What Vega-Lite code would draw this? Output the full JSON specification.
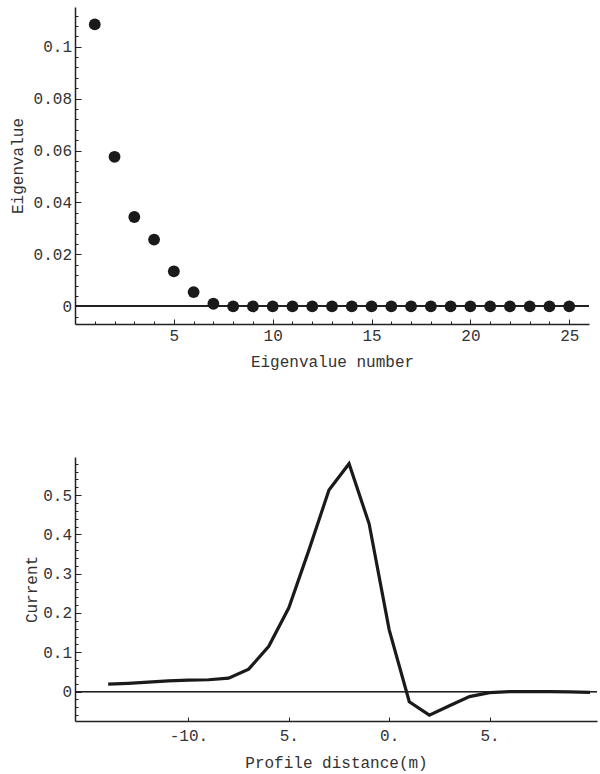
{
  "$schema": "https://vega.github.io/schema/vega-lite/v6.json",
  "padding": {"left": 9, "top": 7, "right": 0, "bottom": 5},
  "background": "white",
  "config": {
    "view": {"stroke": null},
    "font": "Liberation Mono",
    "concat": {"spacing": 86},
    "axis": {
      "grid": false,
      "domainColor": "#222",
      "domainWidth": 1.5,
      "tickColor": "#222",
      "tickWidth": 1,
      "labelFont": "Liberation Mono",
      "labelFontSize": 16,
      "labelColor": "#333",
      "titleFont": "Liberation Mono",
      "titleFontSize": 16,
      "titleFontWeight": "normal",
      "titleColor": "#333",
      "labelOverlap": false,
      "labelFlush": false,
      "labelBound": false
    }
  },
  "datasets": {
    "eig": [
      {"n": 1, "value": 0.1086},
      {"n": 2, "value": 0.0576},
      {"n": 3, "value": 0.0344},
      {"n": 4, "value": 0.0257},
      {"n": 5, "value": 0.0135},
      {"n": 6, "value": 0.0055},
      {"n": 7, "value": 0.001},
      {"n": 8, "value": 0.0},
      {"n": 9, "value": 0.0},
      {"n": 10, "value": 0.0},
      {"n": 11, "value": 0.0},
      {"n": 12, "value": 0.0},
      {"n": 13, "value": 0.0},
      {"n": 14, "value": 0.0},
      {"n": 15, "value": 0.0},
      {"n": 16, "value": 0.0},
      {"n": 17, "value": 0.0},
      {"n": 18, "value": 0.0},
      {"n": 19, "value": 0.0},
      {"n": 20, "value": 0.0},
      {"n": 21, "value": 0.0},
      {"n": 22, "value": 0.0},
      {"n": 23, "value": 0.0},
      {"n": 24, "value": 0.0},
      {"n": 25, "value": 0.0}
    ],
    "profile": [
      {"distance": -14, "current": 0.019},
      {"distance": -13, "current": 0.021},
      {"distance": -12, "current": 0.024},
      {"distance": -11, "current": 0.027},
      {"distance": -10, "current": 0.029},
      {"distance": -9, "current": 0.030},
      {"distance": -8, "current": 0.034},
      {"distance": -7, "current": 0.057},
      {"distance": -6, "current": 0.115},
      {"distance": -5, "current": 0.213},
      {"distance": -4, "current": 0.360},
      {"distance": -3, "current": 0.513},
      {"distance": -2, "current": 0.580},
      {"distance": -1, "current": 0.427},
      {"distance": 0, "current": 0.157},
      {"distance": 1, "current": -0.026},
      {"distance": 2, "current": -0.060},
      {"distance": 3, "current": -0.036},
      {"distance": 4, "current": -0.013},
      {"distance": 5, "current": -0.003},
      {"distance": 6, "current": 0.000},
      {"distance": 7, "current": 0.000},
      {"distance": 8, "current": 0.000},
      {"distance": 9, "current": -0.001},
      {"distance": 10, "current": -0.002}
    ]
  },
  "vconcat": [
    {
      "width": 514,
      "height": 317,
      "data": {"name": "eig"},
      "layer": [
        {
          "mark": {"type": "rule", "color": "#222", "strokeWidth": 1},
          "encoding": {"y": {"datum": 0, "type": "quantitative"}}
        },
        {
          "mark": {"type": "point", "filled": true, "size": 140, "color": "#1a1a1a", "opacity": 1},
          "encoding": {
            "x": {
              "field": "n", "type": "quantitative",
              "scale": {"domain": [0, 26], "nice": false, "zero": false},
              "axis": {
                "title": "Eigenvalue number",
                "values": [1,2,3,4,5,6,7,8,9,10,11,12,13,14,15,16,17,18,19,20,21,22,23,24,25],
                "tickCount": 1000,
                "labelExpr": "datum.value % 5 == 0 ? format(datum.value, 'd') : ''",
                "tickSize": {"condition": {"test": "datum.value % 5 == 0", "value": -5}, "value": -3},
                "labelOverlap": false,
                "labelPadding": 8,
                "titlePadding": 8
              }
            },
            "y": {
              "field": "value", "type": "quantitative",
              "scale": {"domain": [-0.0068, 0.1153], "nice": false, "zero": false},
              "axis": {
                "title": "Eigenvalue",
                "values": [-0.004, 0, 0.004, 0.008, 0.012, 0.016, 0.02, 0.024, 0.028, 0.032, 0.036, 0.04, 0.044, 0.048, 0.052, 0.056, 0.06, 0.064, 0.068, 0.072, 0.076, 0.08, 0.084, 0.088, 0.092, 0.096, 0.1, 0.104, 0.108, 0.112],
                "tickCount": 1000,
                "labelExpr": "abs(datum.value*50 - round(datum.value*50)) < 1e-6 ? format(datum.value, '~g') : ''",
                "tickSize": {"condition": {"test": "abs(datum.value*50 - round(datum.value*50)) < 1e-6", "value": -6}, "value": -3},
                "labelOverlap": false,
                "labelPadding": 9.5,
                "titlePadding": 8
              }
            }
          }
        }
      ]
    },
    {
      "width": 522,
      "height": 264,
      "data": {"name": "profile"},
      "layer": [
        {
          "mark": {"type": "rule", "color": "#222", "strokeWidth": 1},
          "encoding": {"y": {"datum": 0, "type": "quantitative"}}
        },
        {
          "mark": {"type": "line", "color": "#1a1a1a", "strokeWidth": 3.2, "strokeJoin": "miter"},
          "encoding": {
            "x": {
              "field": "distance", "type": "quantitative",
              "scale": {"domain": [-15.65, 10.35], "nice": false, "zero": false},
              "axis": {
                "title": "Profile distance(m)",
                "values": [-10, -5, 0, 5],
                "tickCount": 1000,
                "labelExpr": "datum.value == -10 ? '-10.' : (datum.value == -5 ? '5.' : (datum.value == 0 ? '0.' : '5.'))",
                "tickSize": -4,
                "labelOverlap": false,
                "labelPadding": 10,
                "titlePadding": 11
              }
            },
            "y": {
              "field": "current", "type": "quantitative",
              "scale": {"domain": [-0.075, 0.597], "nice": false, "zero": false},
              "axis": {
                "title": "Current",
                "values": [-0.06, -0.04, -0.02, 0, 0.02, 0.04, 0.06, 0.08, 0.1, 0.12, 0.14, 0.16, 0.18, 0.2, 0.22, 0.24, 0.26, 0.28, 0.3, 0.32, 0.34, 0.36, 0.38, 0.4, 0.42, 0.44, 0.46, 0.48, 0.5, 0.52, 0.54, 0.56, 0.58],
                "tickCount": 1000,
                "labelExpr": "abs(datum.value*10 - round(datum.value*10)) < 1e-6 ? format(datum.value, '~g') : ''",
                "tickSize": {"condition": {"test": "abs(datum.value*10 - round(datum.value*10)) < 1e-6", "value": -6}, "value": -3},
                "labelOverlap": false,
                "labelPadding": 9.5,
                "titlePadding": 3
              }
            }
          }
        }
      ]
    }
  ]
}
